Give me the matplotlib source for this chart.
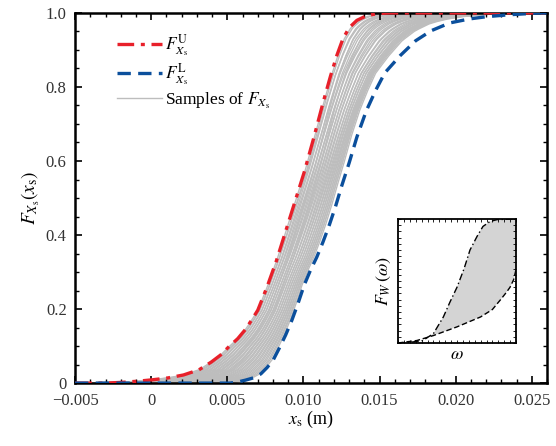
import matplotlib
matplotlib.use("Agg")
import matplotlib.pyplot as plt
import numpy as np
from matplotlib.ticker import MultipleLocator

plt.rcParams['font.family'] = ['Liberation Serif', 'DejaVu Serif']
plt.rcParams['mathtext.fontset'] = 'stix'

# upper bound F^U (red dash-dot)
xs_upper = [-0.005, -0.00297, -0.00195, -0.00093, 0.00009, 0.0011, 0.00212, 0.00314,
            0.00395, 0.00456, 0.00507, 0.00568, 0.00619, 0.00659, 0.0070, 0.00761,
            0.00822, 0.00883, 0.00944, 0.01005, 0.01066, 0.01127, 0.01178, 0.01219,
            0.01259, 0.0130, 0.01351, 0.01412, 0.01483, 0.01564, 0.026]
F_upper = [0.0, 0.0, 0.002, 0.005, 0.009, 0.014, 0.022, 0.036,
           0.057, 0.076, 0.097, 0.12, 0.145, 0.17, 0.197, 0.26,
           0.33, 0.41, 0.49, 0.57, 0.66, 0.755, 0.83, 0.885,
           0.93, 0.96, 0.98, 0.992, 0.998, 1.0, 1.0]

# lower bound F^L (blue dashed)
xs_lower = [-0.005, 0.00517, 0.00568, 0.00619, 0.0067, 0.0072, 0.00761, 0.00802,
            0.00842, 0.00883, 0.00924, 0.00964, 0.01005, 0.01046, 0.01087, 0.01127,
            0.01168, 0.01209, 0.01249, 0.0130, 0.01351, 0.01412, 0.01473, 0.01534,
            0.01636, 0.01737, 0.01839, 0.01961, 0.02093, 0.02205, 0.02348, 0.0247,
            0.0255, 0.026]
F_lower = [0.0, 0.0, 0.003, 0.008, 0.014, 0.025, 0.042, 0.063,
           0.095, 0.13, 0.17, 0.215, 0.265, 0.305, 0.34, 0.38,
           0.425, 0.475, 0.53, 0.595, 0.665, 0.735, 0.79, 0.838,
           0.885, 0.925, 0.952, 0.973, 0.984, 0.99, 0.995, 0.998,
           1.0, 1.0]

# blend of each grey sample between the bounds (0 = upper, 1 = lower),
# at the bottom and at the top of the curve
w_bottom = [0.00, 0.03, 0.06, 0.09, 0.12, 0.15, 0.18, 0.21, 0.24, 0.27, 0.30, 0.33,
            0.36, 0.39, 0.42, 0.45, 0.48, 0.51, 0.54, 0.57, 0.60, 0.63, 0.66, 0.69,
            0.72, 0.75, 0.78, 0.81, 0.84, 0.87, 0.90, 0.93, 0.96, 0.99, 0.50, 0.35]
w_top = [0.02, 0.10, 0.04, 0.18, 0.08, 0.25, 0.14, 0.30, 0.20, 0.36, 0.27, 0.42,
         0.33, 0.46, 0.38, 0.52, 0.44, 0.58, 0.50, 0.62, 0.55, 0.66, 0.60, 0.70,
         0.64, 0.72, 0.68, 0.74, 0.71, 0.76, 0.73, 0.78, 0.75, 0.80, 0.22, 0.12]

# inset: bounds of F_W(omega), normalised axes
om_upper = [0.0, 0.10, 0.21, 0.30, 0.384, 0.44, 0.50, 0.56, 0.61, 0.67, 0.72, 0.78, 0.84, 1.0]
FW_upper = [0.0, 0.005, 0.02, 0.076, 0.21, 0.33, 0.45, 0.60, 0.75, 0.86, 0.94, 0.98, 0.995, 1.0]
om_lower = [0.0, 0.16, 0.30, 0.40, 0.50, 0.60, 0.70, 0.80, 0.87, 0.92, 0.95, 0.98, 1.0]
FW_lower = [0.0, 0.02, 0.06, 0.095, 0.13, 0.17, 0.21, 0.27, 0.35, 0.41, 0.45, 0.51, 0.59]

red = '#e8202a'
blue = '#0b4f9c'
grey = '#bdbdbd'

fig = plt.figure(figsize=(5.56, 4.46), dpi=100)
ax = fig.add_axes([0.135, 0.141, 0.849, 0.830])

# grey samples from the two bounds
p = np.linspace(0.003, 0.997, 150)
xu = np.interp(p, F_upper[1:-1], xs_upper[1:-1])
xl = np.interp(p, F_lower[1:-1], xs_lower[1:-1])
first = True
for wb, wt in zip(w_bottom, w_top):
    w = wb + (wt - wb) * p
    xx = (1 - w) * xu + w * xl
    xx = np.concatenate([[-0.005], xx, [0.026]])
    yy = np.concatenate([[0.0], p, [1.0]])
    ax.plot(xx, yy, color=grey, lw=1.0, zorder=1,
            label='Samples of $F_{X_\\mathrm{s}}$' if first else None)
    first = False

ax.plot(xs_upper, F_upper, color=red, lw=2.4, ls=(0, (5, 2, 1.2, 2)), zorder=3,
        label='$F_{X_\\mathrm{s}}^{\\mathrm{U}}$')
ax.plot(xs_lower, F_lower, color=blue, lw=2.4, ls=(0, (4, 2.2)), zorder=3,
        label='$F_{X_\\mathrm{s}}^{\\mathrm{L}}$')

ax.set_xlim(-0.005, 0.026)
ax.set_ylim(0, 1)
ax.xaxis.set_minor_locator(MultipleLocator(0.001))
ax.yaxis.set_minor_locator(MultipleLocator(0.05))
ax.set_xticks([-0.005, 0, 0.005, 0.010, 0.015, 0.020, 0.025])
ax.set_xticklabels(['\u22120.005', '0', '0.005', '0.010', '0.015', '0.020', '0.025'])
ax.set_yticks([0, 0.2, 0.4, 0.6, 0.8, 1.0])
ax.set_yticklabels(['0', '0.2', '0.4', '0.6', '0.8', '1.0'])
ax.tick_params(which='both', direction='in', top=True, right=True,
               labelsize=12, labelcolor='#333333')
ax.tick_params(axis='x', which='major', length=5, width=1.2, pad=7)
ax.tick_params(axis='y', which='major', length=5, width=1.2, pad=6)
ax.tick_params(which='minor', length=3, width=1.0)
for s in ax.spines.values():
    s.set_linewidth(1.8)

ax.set_xlabel('$x_\\mathrm{s}$ (m)', fontsize=13, labelpad=0)
ax.set_ylabel('$F_{X_\\mathrm{s}}(x_\\mathrm{s})$', fontsize=14, labelpad=3)

h, l = ax.get_legend_handles_labels()
order = [1, 2, 0]
ax.legend([h[i] for i in order], [l[i] for i in order], loc='upper left',
          bbox_to_anchor=(0.055, 0.99), frameon=False, fontsize=12.5,
          handlelength=2.6, handletextpad=0.2, labelspacing=0.15)

# inset
ins = fig.add_axes([0.716, 0.231, 0.212, 0.278])
om = np.linspace(0, 1, 200)
up = np.interp(om, om_upper, FW_upper)
lo = np.interp(om, om_lower, FW_lower)
ins.fill_between(om, lo, up, where=up >= lo, color='#d4d4d4', lw=0)
ins.plot(om_upper, FW_upper, color='black', lw=1.0, ls=(0, (5, 2, 1, 2)))
ins.plot(om_lower, FW_lower, color='black', lw=1.0, ls=(0, (4, 2)))
ins.set_xlim(0, 1)
ins.set_ylim(0, 1)
ins.xaxis.set_major_locator(MultipleLocator(0.2))
ins.xaxis.set_minor_locator(MultipleLocator(0.05))
ins.yaxis.set_major_locator(MultipleLocator(0.2))
ins.yaxis.set_minor_locator(MultipleLocator(0.05))
ins.tick_params(which='both', direction='in', top=True, right=True,
                labelbottom=False, labelleft=False, length=2, width=0.6)
for s in ins.spines.values():
    s.set_linewidth(1.3)
ins.set_xlabel('$\\omega$', fontsize=13, labelpad=2)
ins.set_ylabel('$F_W\\,(\\omega)$', fontsize=13, labelpad=4)

fig.savefig('out.png', dpi=100)
